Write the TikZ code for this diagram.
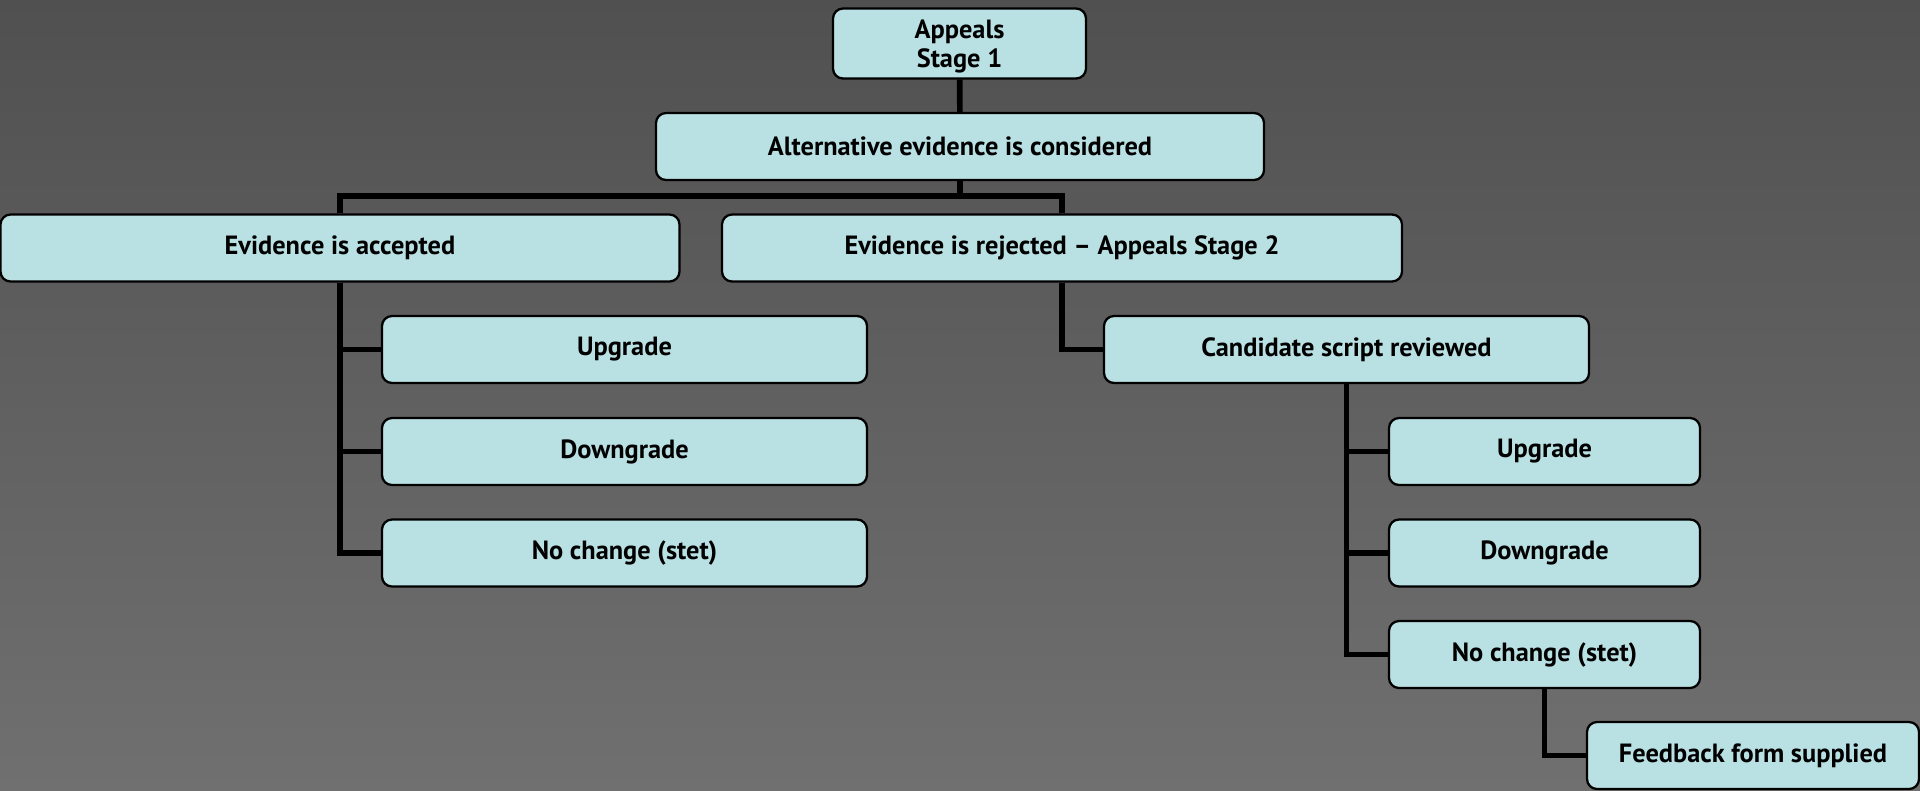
\documentclass[tikz,border=0pt]{standalone}
\usepackage{fontspec}
\setmainfont{PT Sans}
\usetikzlibrary{positioning}
\definecolor{boxcyan}{RGB}{185,224,227}
\definecolor{bgtop}{RGB}{80,80,80}
\definecolor{bgmid}{RGB}{140,140,140}
\definecolor{bgbot}{RGB}{112,112,112}

\tikzset{
    stagebox/.style={draw=black, line width=0.65pt, fill=boxcyan, rounded corners=0.1cm,
        minimum height=0.67cm, inner sep=0pt, align=center,
        font=\fontsize{7.5}{8.2}\selectfont\bfseries},
    link/.style={line width=1.6pt, black}
}

\begin{document}
\begin{tikzpicture}
    \shade[top color=bgtop, middle color=bgmid, bottom color=bgbot] (0,0) rectangle (19.2,-7.9);
    \useasboundingbox (0,0) rectangle (19.2,-7.9);

    \node[stagebox, minimum width=2.53cm, minimum height=0.70cm, text depth=0pt] (stage1) at (9.595,-0.435) {Appeals\\Stage 1};
    \node[stagebox, minimum width=6.08cm] (alt) at (9.60,-1.465) {Alternative evidence is considered};

    \node[stagebox, minimum width=6.79cm] (acc) at (3.40,-2.48) {Evidence is accepted};
    \node[stagebox, minimum width=6.80cm] (rej) at (10.62,-2.48) {Evidence is rejected -- Appeals Stage 2};

    \node[stagebox, minimum width=4.85cm] (upA) at (6.245,-3.495) {Upgrade};
    \node[stagebox, minimum width=4.85cm] (downA) at (6.245,-4.515) {Downgrade};
    \node[stagebox, minimum width=4.85cm] (stetA) at (6.245,-5.53) {No change (stet)};

    \node[stagebox, minimum width=4.85cm] (cand) at (13.465,-3.495) {Candidate script reviewed};
    \node[stagebox, minimum width=3.11cm] (upB) at (15.445,-4.515) {Upgrade};
    \node[stagebox, minimum width=3.11cm] (downB) at (15.445,-5.53) {Downgrade};
    \node[stagebox, minimum width=3.11cm] (stetB) at (15.445,-6.545) {No change (stet)};
    \node[stagebox, minimum width=3.32cm] (feed) at (17.53,-7.555) {Feedback form supplied};

    \coordinate (bus) at (9.60,-1.96);

    \draw[link] (stage1) -- (alt);
    \draw[link] (alt.south) -- (bus);
    \draw[link] (bus) -| (acc.north);
    \draw[link] (bus) -| (rej.north);

    \draw[link] (acc.south) |- (upA.west);
    \draw[link] (acc.south) |- (downA.west);
    \draw[link] (acc.south) |- (stetA.west);

    \draw[link] (rej.south) |- (cand.west);
    \draw[link] (cand.south) |- (upB.west);
    \draw[link] (cand.south) |- (downB.west);
    \draw[link] (cand.south) |- (stetB.west);
    \draw[link] (stetB.south) |- (feed.west);
\end{tikzpicture}
\end{document}
